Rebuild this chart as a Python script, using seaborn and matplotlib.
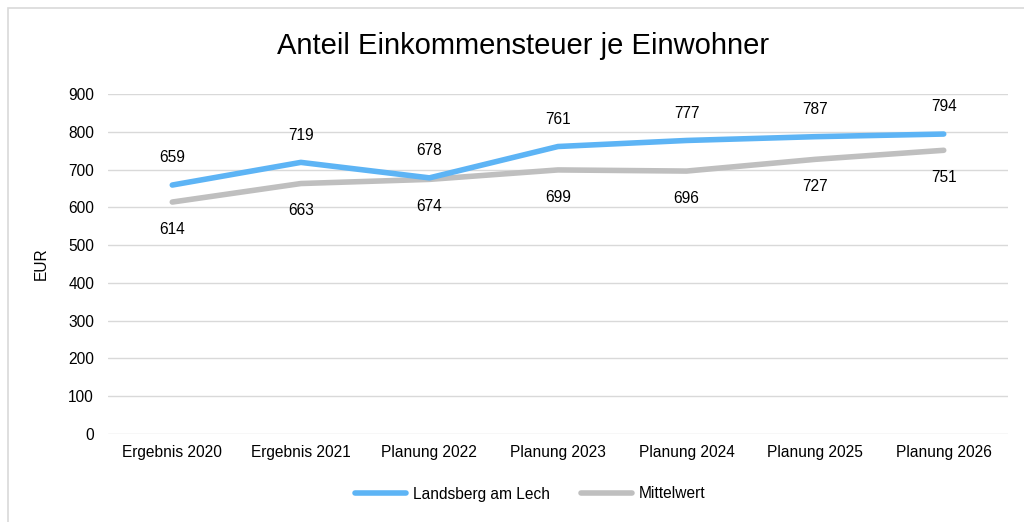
import matplotlib
matplotlib.use("Agg")
import matplotlib.pyplot as plt
import seaborn as sns
import pandas as pd
from matplotlib.patches import Rectangle
from matplotlib.lines import Line2D

categories = ["Ergebnis 2020", "Ergebnis 2021", "Planung 2022", "Planung 2023",
              "Planung 2024", "Planung 2025", "Planung 2026"]
landsberg = [659, 719, 678, 761, 777, 787, 794]
mittelwert = [614, 663, 674, 699, 696, 727, 751]
series_names = ["Landsberg am Lech", "Mittelwert"]
y_ticks = [0, 100, 200, 300, 400, 500, 600, 700, 800, 900]

sns.set_theme(style="white")
plt.rcParams['font.family'] = ['Liberation Sans', 'DejaVu Sans']
plt.rcParams['text.color'] = '#000000'
plt.rcParams['axes.labelcolor'] = '#000000'

df = pd.DataFrame({
    "Kategorie": categories * 2,
    "Wert": landsberg + mittelwert,
    "Serie": [series_names[0]] * len(categories) + [series_names[1]] * len(categories),
    "x": list(range(len(categories))) * 2,
})

fig = plt.figure(figsize=(10.24, 5.22), dpi=100)
ax = fig.add_axes([108 / 1024, 1 - 434 / 522, 900 / 1024, 340 / 522])

blue = "#5DB4F5"
gray = "#BFBFBF"
palette = {series_names[0]: blue, series_names[1]: gray}
sns.lineplot(data=df, x="x", y="Wert", hue="Serie", palette=palette, ax=ax,
             linewidth=4, legend=False, solid_capstyle="round")
for ln in ax.lines:
    if ln.get_color().lower() == blue.lower():
        ln.set_zorder(4)

fs = 11.2
ax.set_xlim(-0.5, len(categories) - 0.5)
ax.set_ylim(0, 900)
ax.set_yticks(y_ticks)
ax.set_xticks(range(len(categories)))
ax.set_xticklabels(categories)
ax.tick_params(axis="both", length=0, labelsize=fs, colors="#000000")
ax.tick_params(axis="y", pad=10)
ax.tick_params(axis="x", pad=8)
ax.grid(axis="y", color="#D9D9D9", linewidth=1)
ax.set_axisbelow(True)
for s in ax.spines.values():
    s.set_visible(False)
ax.set_xlabel("")
ax.set_ylabel("EUR", fontsize=fs, labelpad=14, color="#000000")

for i, v in enumerate(landsberg):
    ax.annotate(str(v), (i, v), xytext=(0, 19.5), textcoords="offset points",
                ha="center", va="center", fontsize=fs, color="#000000")
for i, v in enumerate(mittelwert):
    ax.annotate(str(v), (i, v), xytext=(0, -19.5), textcoords="offset points",
                ha="center", va="center", fontsize=fs, color="#000000")

fig.text(523 / 1024, 1 - 46 / 522, "Anteil Einkommensteuer je Einwohner",
         ha="center", va="center", fontsize=21, color="#000000")

handles = [Line2D([0], [0], color=palette[n], linewidth=4, solid_capstyle="round") for n in series_names]
leg = fig.legend(handles, series_names, loc="center", bbox_to_anchor=(530 / 1024, 1 - 494 / 522),
                 ncol=2, frameon=False, fontsize=fs, handlelength=3.3, handletextpad=0.4,
                 columnspacing=2.0)
for t in leg.get_texts():
    t.set_color("#000000")

fig.patches.append(Rectangle((8 / 1024, -0.1), 1.2, 1 - 8 / 522 + 0.1,
                             transform=fig.transFigure, fill=False,
                             edgecolor="#D9D9D9", linewidth=1.2))

fig.savefig("out.png", dpi=100)
